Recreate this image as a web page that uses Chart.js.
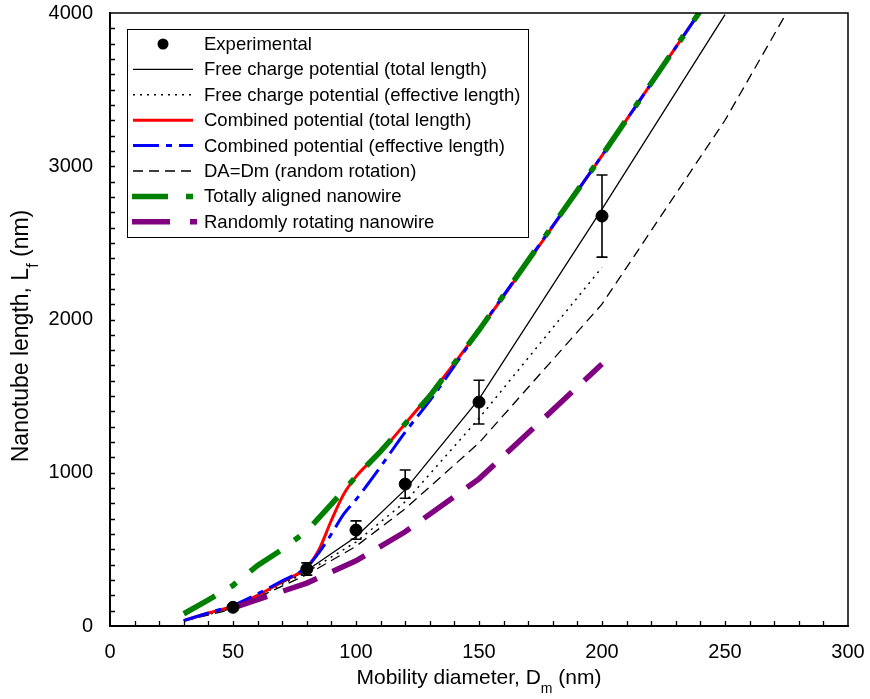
<!DOCTYPE html>
<html>
<head>
<meta charset="utf-8">
<script src="https://cdn.jsdelivr.net/npm/chart.js@4.4.1/dist/chart.umd.min.js"></script>
<style>
  html, body { margin: 0; padding: 0; background: #fff; }
  #wrap { width: 870px; height: 699px; }
</style>
</head>
<body>
<div id="wrap"><canvas id="lengthChart" width="870" height="699"></canvas></div>
<script>
// Nanotube length vs. mobility diameter: measurements and model curves

var expX = [50, 80, 100, 120, 150, 200];
var expY = [122, 372, 626, 926, 1461, 2675];
var expErr = [0, 40, 60, 92, 143, 268];

var freeTotalX = [30, 50, 80, 100, 120, 150, 200, 250];
var freeTotalY = [40, 120, 362, 582, 890, 1480, 2720, 3990];

var freeEffX = [30, 50, 80, 100, 120, 150, 200];
var freeEffY = [35, 115, 352, 548, 810, 1355, 2340];

var combTotalX = [30, 40, 50, 60, 70, 80, 85, 90, 95, 100, 105, 110, 120, 135, 150, 200, 250];
var combTotalY = [35, 85, 130, 200, 290, 385, 500, 690, 860, 975, 1060, 1135, 1320, 1610, 1930, 3070, 4250];

var combEffX = [30, 40, 50, 60, 70, 80, 85, 90, 95, 100, 105, 110, 120, 130, 150, 200, 250];
var combEffY = [35, 85, 135, 210, 295, 385, 480, 600, 730, 825, 930, 1040, 1265, 1470, 1930, 3070, 4250];

var randRotX = [30, 50, 80, 100, 120, 150, 200, 250, 300];
var randRotY = [33, 110, 335, 520, 765, 1195, 2100, 3300, 4700];

var alignedX = [30, 40, 50, 60, 70, 80, 90, 100, 110, 120, 130, 150, 200, 250];
var alignedY = [80, 170, 265, 395, 500, 620, 795, 975, 1140, 1320, 1500, 1930, 3070, 4250];

var rotatingX = [50, 80, 100, 120, 150, 200];
var rotatingY = [118, 280, 425, 615, 960, 1710];

var xTicks = [0, 50, 100, 150, 200, 250, 300];
var yTicks = [0, 1000, 2000, 3000, 4000];

var FONT = "'Liberation Sans', Arial, sans-serif";

function pts(xs, ys) {
  return xs.map(function(x, i) { return { x: x, y: ys[i] }; });
}

function curve(label, xs, ys, color, width, dash, order, smooth) {
  return {
    label: label,
    data: pts(xs, ys),
    showLine: true,
    borderColor: color,
    backgroundColor: color,
    borderWidth: width,
    borderDash: dash,
    pointRadius: 0,
    tension: 0,
    cubicInterpolationMode: smooth ? 'monotone' : 'default',
    order: order
  };
}

var rotating = curve('Randomly rotating nanowire', rotatingX, rotatingY, '#800080', 5.5, [36, 17], 1);
rotating.legendDash = [38, 20, 7, 20];

var datasets = [
  {
    label: 'Experimental',
    data: pts(expX, expY),
    showLine: false,
    pointRadius: 6,
    pointBackgroundColor: '#000',
    pointBorderColor: '#000',
    borderColor: '#000',
    backgroundColor: '#000',
    order: 0
  },
  curve('Free charge potential (total length)', freeTotalX, freeTotalY, '#000', 1.3, [], 4),
  curve('Free charge potential (effective length)', freeEffX, freeEffY, '#000', 1.5, [2, 5], 4),
  curve('Combined potential (total length)', combTotalX, combTotalY, '#ff0000', 3, [], 3, true),
  curve('Combined potential (effective length)', combEffX, combEffY, '#0000ff', 3, [26, 7, 6, 7], 2, true),
  curve('DA=Dm (random rotation)', randRotX, randRotY, '#000', 1.3, [10, 6], 4),
  curve('Totally aligned nanowire', alignedX, alignedY, '#008000', 5.5, [36, 18, 7, 18], 1),
  rotating
];

function drawSubTitle(ctx, parts, cx, baseline, size) {
  // parts: [text, isSubscript]
  var w = 0;
  parts.forEach(function(p) {
    ctx.font = (p[1] ? Math.round(size * 0.68) : size) + 'px ' + FONT;
    w += ctx.measureText(p[0]).width;
  });
  var x = cx - w / 2;
  parts.forEach(function(p) {
    ctx.font = (p[1] ? Math.round(size * 0.68) : size) + 'px ' + FONT;
    ctx.fillText(p[0], x, baseline + (p[1] ? size * 0.42 : 0));
    x += ctx.measureText(p[0]).width;
  });
}

// keep the plot box fixed: no extra room for edge labels
function fixBox(s) {
  s.paddingTop = 0; s.paddingBottom = 0;
  s.paddingLeft = 0; s.paddingRight = 0;
}

var framePlugin = {
  id: 'frame',
  beforeDraw: function(chart) {
    var ctx = chart.ctx;
    ctx.save();
    ctx.fillStyle = '#fff';
    ctx.fillRect(0, 0, chart.width, chart.height);
    ctx.restore();
  },
  afterDatasetsDraw: function(chart) {
    // error bars on the measured points
    var ctx = chart.ctx, xs = chart.scales.x, ys = chart.scales.y;
    ctx.save();
    ctx.strokeStyle = '#000';
    ctx.lineWidth = 1.6;
    expX.forEach(function(x, i) {
      if (!expErr[i]) return;
      var px = xs.getPixelForValue(x);
      var top = ys.getPixelForValue(expY[i] + expErr[i]);
      var bot = ys.getPixelForValue(expY[i] - expErr[i]);
      ctx.beginPath();
      ctx.moveTo(px, top); ctx.lineTo(px, bot);
      ctx.moveTo(px - 5.5, top); ctx.lineTo(px + 5.5, top);
      ctx.moveTo(px - 5.5, bot); ctx.lineTo(px + 5.5, bot);
      ctx.stroke();
    });
    ctx.restore();
  },
  afterDraw: function(chart) {
    var ctx = chart.ctx, a = chart.chartArea;
    var xs = chart.scales.x, ys = chart.scales.y;
    ctx.save();

    // top and right edges of the plot box
    ctx.strokeStyle = '#000';
    ctx.lineWidth = 1.5;
    ctx.beginPath();
    ctx.moveTo(a.left, a.top); ctx.lineTo(a.right, a.top); ctx.lineTo(a.right, a.bottom);
    ctx.stroke();

    // inward tick marks
    ctx.lineWidth = 1.3;
    ctx.beginPath();
    for (var v = 10; v < 300; v += 10) {
      var px = Math.round(xs.getPixelForValue(v)) + 0.5;
      ctx.moveTo(px, a.bottom); ctx.lineTo(px, a.bottom - 5);
    }
    for (var w = 100; w < 4000; w += 100) {
      var py = Math.round(ys.getPixelForValue(w)) + 0.5;
      ctx.moveTo(a.left, py); ctx.lineTo(a.left + 5, py);
    }
    ctx.stroke();

    // legend
    ctx.fillStyle = '#fff';
    ctx.fillRect(127.5, 29.5, 401, 208);
    ctx.lineWidth = 1;
    ctx.strokeStyle = '#000';
    ctx.strokeRect(127.5, 29.5, 401, 208);
    chart.data.datasets.forEach(function(ds, i) {
      var y = 44 + i * 25.4;
      ctx.save();
      if (ds.showLine === false) {
        ctx.fillStyle = '#000';
        ctx.beginPath();
        ctx.arc(163, y, 5.5, 0, Math.PI * 2);
        ctx.fill();
      } else {
        var thick = ds.borderWidth > 4;
        ctx.strokeStyle = ds.borderColor;
        ctx.lineWidth = ds.borderWidth;
        ctx.setLineDash(ds.legendDash || ds.borderDash || []);
        ctx.beginPath();
        ctx.moveTo(thick ? 132 : 133, y);
        ctx.lineTo(thick ? 197 : 193, y);
        ctx.stroke();
      }
      ctx.restore();
      ctx.fillStyle = '#000';
      ctx.font = '18.5px ' + FONT;
      ctx.textBaseline = 'middle';
      ctx.textAlign = 'left';
      ctx.fillText(ds.label, 204, y + 1);
    });

    // axis titles with subscripts
    ctx.fillStyle = '#000';
    ctx.textBaseline = 'alphabetic';
    ctx.textAlign = 'left';
    drawSubTitle(ctx, [['Mobility diameter, D', false], ['m', true], [' (nm)', false]],
      (a.left + a.right) / 2, 684, 21);

    ctx.save();
    ctx.translate(28, 336);
    ctx.rotate(-Math.PI / 2);
    drawSubTitle(ctx, [['Nanotube length, L', false], ['f', true], [' (nm)', false]], 0, 0, 23);
    ctx.restore();

    ctx.restore();
  }
};

function plain(v) { return String(v); }

new Chart(document.getElementById('lengthChart').getContext('2d'), {
  type: 'scatter',
  data: { datasets: datasets },
  options: {
    responsive: false,
    animation: false,
    events: [],
    layout: { padding: { left: 0, right: 22, top: 13, bottom: 0 } },
    plugins: { legend: { display: false }, tooltip: { enabled: false } },
    scales: {
      x: {
        type: 'linear',
        min: 0, max: 300,
        afterFit: function(s) { s.height = 73; fixBox(s); },
        afterBuildTicks: function(s) { s.ticks = xTicks.map(function(v) { return { value: v }; }); },
        ticks: { color: '#000', padding: 6, maxRotation: 0, callback: plain, font: { family: FONT, size: 20 } },
        grid: { display: false },
        border: { display: true, color: '#000', width: 2 }
      },
      y: {
        type: 'linear',
        min: 0, max: 4000,
        afterFit: function(s) { s.width = 110; fixBox(s); },
        afterBuildTicks: function(s) { s.ticks = yTicks.map(function(v) { return { value: v }; }); },
        ticks: { color: '#000', padding: 9, callback: plain, font: { family: FONT, size: 20 } },
        grid: { display: false },
        border: { display: true, color: '#000', width: 2 }
      }
    }
  },
  plugins: [framePlugin]
});
</script>
</body>
</html>
